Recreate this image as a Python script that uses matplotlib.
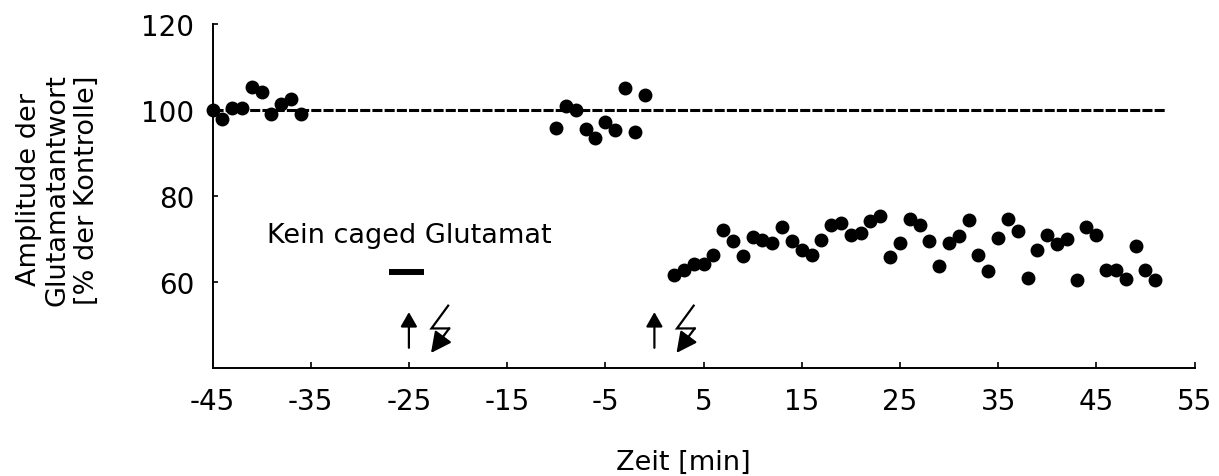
import matplotlib
matplotlib.use("Agg")
import matplotlib.pyplot as plt

# ---- data ----
base1_t = [-45, -44, -43, -42, -41, -40, -39, -38, -37, -36]
base1_y = [100.0, 97.8, 100.4, 100.4, 105.3, 104.1, 99.0, 101.4, 102.5, 99.1]

base2_t = [-10, -9, -8, -7, -6, -5, -4, -3, -2, -1]
base2_y = [95.9, 101.0, 100.0, 95.6, 93.5, 97.1, 95.4, 105.1, 95.0, 103.4]

post_t = [2, 3, 4, 5, 6, 7, 8, 9, 10, 11, 12, 13, 14, 15, 16, 17, 18, 19, 20,
          21, 22, 23, 24, 25, 26, 27, 28, 29, 30, 31, 32, 33, 34, 35, 36, 37,
          38, 39, 40, 41, 42, 43, 44, 45, 46, 47, 48, 49, 50, 51]
post_y = [61.6, 62.8, 64.3, 64.2, 66.3, 72.1, 69.6, 66.0, 70.5, 69.8, 69.0,
          72.9, 69.5, 67.4, 66.3, 69.8, 73.3, 73.7, 70.9, 71.3, 74.1, 75.3,
          65.7, 69.1, 74.7, 73.3, 69.5, 63.7, 69.1, 70.8, 74.5, 66.2, 62.5,
          70.2, 74.7, 71.8, 61.0, 67.4, 71.0, 68.8, 69.9, 60.4, 72.9, 70.9,
          62.9, 62.9, 60.8, 68.4, 62.9, 60.4]

control_t = [-45, 52]
control_y = [100, 100]

event_t = [-25, 0]            # photolysis / stimulation events
no_cage_t = [-27, -23.5]      # period without caged glutamate
no_cage_y = 62.4

xticks = [-45, -35, -25, -15, -5, 5, 15, 25, 35, 45, 55]
yticks = [60, 80, 100, 120]

# ---- figure ----
plt.rcParams['font.family'] = ['DejaVu Sans']
fig = plt.figure(figsize=(12.19, 4.77), dpi=100)
ax = fig.add_axes([212.5 / 1219, 1 - 369 / 477, 982 / 1219, 344 / 477])

ax.plot(control_t, control_y, color='black', lw=2.2, dashes=(3.3, 0.7),
        zorder=2)
for t, y in ((base1_t, base1_y), (base2_t, base2_y), (post_t, post_y)):
    ax.plot(t, y, 'o', color='black', ms=9, zorder=3, clip_on=False)

# no caged glutamate bar + text
ax.plot(no_cage_t, [no_cage_y, no_cage_y], color='black', lw=4.3,
        solid_capstyle='butt')
ax.text(-25, 69.2, 'Kein caged Glutamat', ha='center', va='baseline',
        fontsize=19.5)

# arrows and lightning symbols
for t in event_t:
    ax.annotate('', xy=(t, 53.0), xytext=(t, 44.7),
                arrowprops=dict(arrowstyle='-|>,head_length=0.35,head_width=0.2',
                                mutation_scale=25, lw=1.6, color='black',
                                shrinkA=0, shrinkB=0))
    ax.plot([t + 4.0, t + 2.3, t + 4.1], [54.5, 49.2, 49.2], color='black',
            lw=1.6, solid_joinstyle='miter')
    ax.annotate('', xy=(t + 2.25, 43.5), xytext=(t + 4.1, 49.2),
                arrowprops=dict(arrowstyle='-|>,head_length=0.5,head_width=0.25',
                                mutation_scale=25, lw=1.6, color='black',
                                shrinkA=0, shrinkB=0))

ax.set_xlim(-45, 55)
ax.set_ylim(40, 120)
ax.set_xticks(xticks)
ax.set_xticklabels([str(v) for v in xticks])
ax.set_yticks(yticks)
ax.set_yticklabels([str(v) for v in yticks])

for s in ('top', 'right'):
    ax.spines[s].set_visible(False)
for s in ('left', 'bottom'):
    ax.spines[s].set_linewidth(1.4)

ax.tick_params(axis='x', direction='in', length=4, width=1.2, labelsize=20,
               pad=14)
ax.tick_params(axis='y', direction='in', length=3.5, width=1.2, labelsize=20,
               pad=13)

fig.text(683.5 / 1219, 1 - 463 / 477, 'Zeit [min]', ha='center', va='center',
         fontsize=19.5)
fig.text(58 / 1219, 1 - 190 / 477,
         'Amplitude der\nGlutamatantwort\n[% der Kontrolle]',
         rotation=90, ha='center', va='center', multialignment='center',
         fontsize=19.5, linespacing=1.15)

fig.savefig('out.png', dpi=100)
